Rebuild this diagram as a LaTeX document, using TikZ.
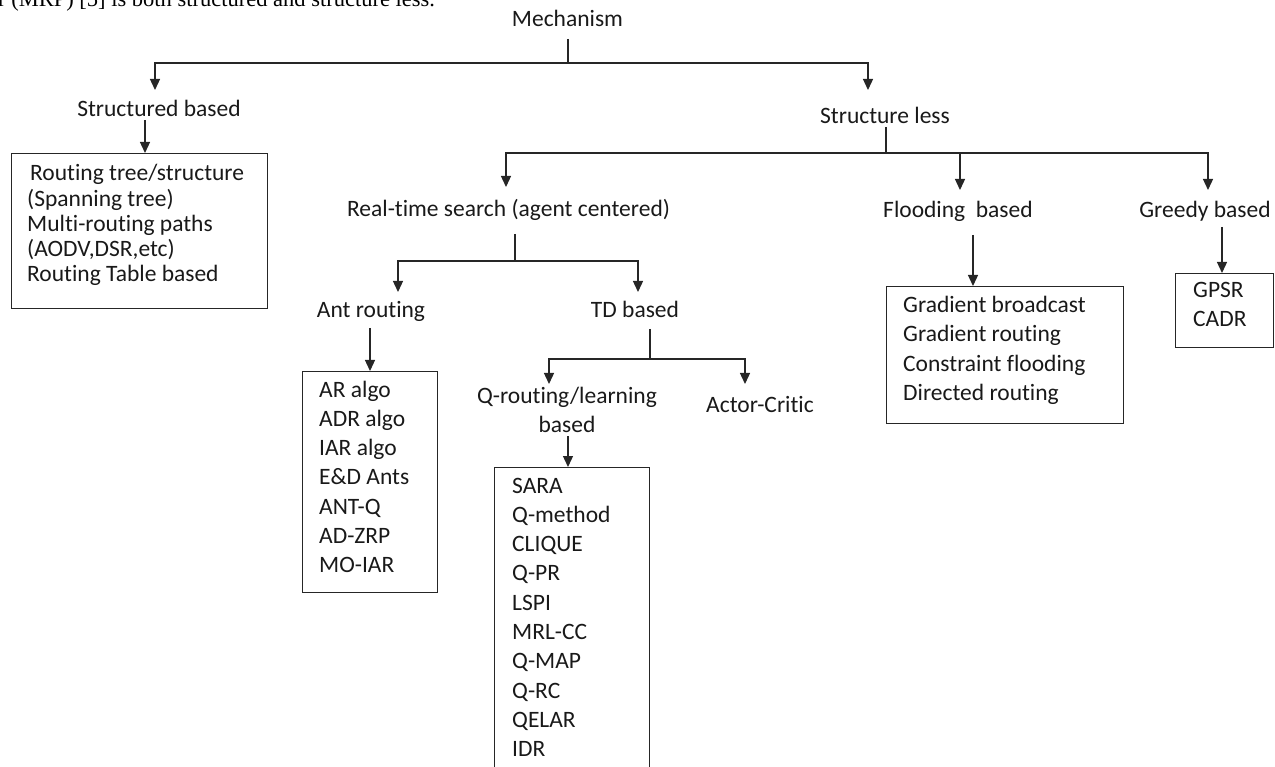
\documentclass[tikz,border=0pt]{standalone}
\usepackage{fontspec}
\setmainfont{Carlito}[Ligatures={NoCommon}]
\newfontfamily\serifcut{Liberation Serif}
\usetikzlibrary{arrows.meta}
\begin{document}
\begin{tikzpicture}[x=1pt,y=-1pt,
  ln/.style={line width=1.3pt, draw=black!85},
  arr/.style={ln, -{Triangle[width=10pt,length=11pt]}},
  boxnode/.style={draw=black!85, line width=1.3pt, anchor=north west, inner sep=0pt},
  lbl/.style={anchor=base, inner sep=0pt, font=\fontsize{23.5}{28}\selectfont, text=black!90},
  item/.style={anchor=base west, inner sep=0pt, font=\fontsize{23.5}{28}\selectfont, text=black!90}]
\useasboundingbox (0,0) rectangle (1275,767);
\clip (0,0) rectangle (1275,767);

% clipped running text at the top
\node[anchor=base west, inner sep=0pt, font=\serifcut\fontsize{22.5}{26}\selectfont] (head) at (-2,7) {r (MRP) [5] is both structured and structure less.};

% labels
\node[lbl] (mech) at (567.5,27) {Mechanism};
\node[lbl] (sb) at (159,117) {Structured based};
\node[lbl] (sl) at (885,124) {Structure less};
\node[lbl] (rt) at (508.5,217) {Real-time search (agent centered)};
\node[lbl] (fb) at (958,218) {Flooding\ \ based};
\node[lbl] (gb) at (1205,218) {Greedy based};
\node[lbl] (ant) at (371,318) {Ant routing};
\node[lbl] (td) at (635,318) {TD based};
\node[lbl] (qr) at (567,403) {Q-routing/learning};
\node[lbl] (qrb) at (567,432) {based};
\node[lbl] (ac) at (760,413) {Actor-Critic};

% boxes
\node[boxnode, minimum width=256pt, minimum height=155pt] (b1) at (11,153) {};
\node[boxnode, minimum width=135pt, minimum height=221pt] (antbox) at (302,371) {};
\node[boxnode, minimum width=155pt, minimum height=330pt] (qbox) at (494,467) {};
\node[boxnode, minimum width=237pt, minimum height=137pt] (fbox) at (886,286) {};
\node[boxnode, minimum width=98pt, minimum height=74pt] (gbox) at (1175,273) {};

% box contents
\node[item] (s1) at (30,181) {Routing tree/structure};
\foreach \t [count=\i] in {(Spanning tree),Multi-routing paths,{(AODV,DSR,etc)},Routing Table based}
  \node[item] (s\the\numexpr\i+1\relax) at (27,181+25.25*\i) {\t};
\foreach \t [count=\i] in {AR algo,ADR algo,IAR algo,E\&D Ants,ANT-Q,AD-ZRP,MO-IAR}
  \node[item] (a\i) at (319,397+29.3*\i-29.3) {\t};
\foreach \t [count=\i] in {SARA,Q-method,CLIQUE,Q-PR,LSPI,MRL-CC,Q-MAP,Q-RC,QELAR,IDR}
  \node[item] (q\i) at (512,493+29.3*\i-29.3) {\t};
\foreach \t [count=\i] in {Gradient broadcast,Gradient routing,Constraint flooding,Directed routing}
  \node[item] (f\i) at (903,313+29*\i-29) {\t};
\node[item] (g1) at (1193,298) {GPSR};
\node[item] (g2) at (1193,327) {CADR};

% junction coordinates
\coordinate (m0) at (568,39);
\coordinate (m1) at (568,63);
\coordinate (mL) at (155,63);
\coordinate (mR) at (868,63);
\coordinate (mLt) at (155,90);
\coordinate (mRt) at (868,90);
\coordinate (sb0) at (145,120);
\coordinate (sl0) at (886,127);
\coordinate (sl1) at (886,153);
\coordinate (sL) at (506,153);
\coordinate (sF) at (960,153);
\coordinate (sG) at (1208,153);
\coordinate (sLt) at (506,187);
\coordinate (sFt) at (960,190);
\coordinate (sGt) at (1208,190);
\coordinate (rt0) at (515,234);
\coordinate (rt1) at (515,261);
\coordinate (rL) at (398,261);
\coordinate (rR) at (638,261);
\coordinate (rLt) at (398,292);
\coordinate (rRt) at (638,292);
\coordinate (ant0) at (370,328);
\coordinate (td0) at (650,329);
\coordinate (td1) at (650,359);
\coordinate (tL) at (549,359);
\coordinate (tR) at (745,359);
\coordinate (tLt) at (549,384);
\coordinate (tRt) at (745,384);
\coordinate (qr0) at (568,436);
\coordinate (fb0) at (973,235);
\coordinate (gb0) at (1222,227);

% connectors
\draw[ln] (m0) -- (m1);
\draw[arr] (m1) -- (mL) -- (mLt);
\draw[arr] (m1) -- (mR) -- (mRt);
\draw[arr] (sb0) -- (b1.north -| sb0);
\draw[ln] (sl0) -- (sl1);
\draw[arr] (sl1) -- (sL) -- (sLt);
\draw[arr] (sl1) -- (sF) -- (sFt);
\draw[arr] (sF) -- (sG) -- (sGt);
\draw[ln] (rt0) -- (rt1);
\draw[arr] (rt1) -- (rL) -- (rLt);
\draw[arr] (rt1) -- (rR) -- (rRt);
\draw[arr] (ant0) -- (antbox.north -| ant0);
\draw[ln] (td0) -- (td1);
\draw[arr] (td1) -- (tL) -- (tLt);
\draw[arr] (td1) -- (tR) -- (tRt);
\draw[arr] (qr0) -- (qbox.north -| qr0);
\draw[arr] (fb0) -- (fbox.north -| fb0);
\draw[arr] (gb0) -- (gbox.north -| gb0);
\end{tikzpicture}
\end{document}
